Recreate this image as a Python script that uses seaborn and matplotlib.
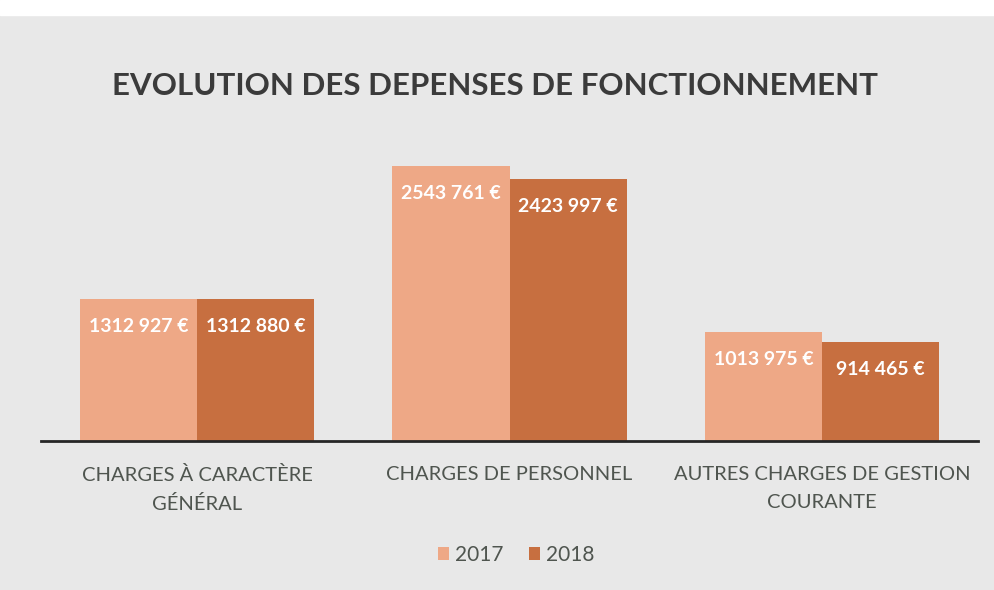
import numpy as np
import matplotlib.pyplot as plt
import matplotlib.patches as mpatches
import pandas as pd
import seaborn as sns

categories = ['CHARGES À CARACTÈRE\nGÉNÉRAL', 'CHARGES DE PERSONNEL',
              'AUTRES CHARGES DE GESTION\nCOURANTE']
years = ['2017', '2018']
values_2017 = [1312927, 2543761, 1013975]
values_2018 = [1312880, 2423997, 914465]

df = pd.DataFrame({
    'categorie': categories * 2,
    'annee': [years[0]] * 3 + [years[1]] * 3,
    'montant': values_2017 + values_2018,
})

sns.set_style('white')
plt.rcParams['font.family'] = ['Lato', 'DejaVu Sans']

fig = plt.figure(figsize=(9.94, 5.90), dpi=100, facecolor='#e8e8e8')
# white strip of the scan at the top
fig.patches.append(mpatches.Rectangle((0, 0.975), 1, 0.025, transform=fig.transFigure,
                                      color='white', zorder=0))
ax = fig.add_axes([0.0412, 0.2525, 0.943, 0.549])
ax.set_facecolor('none')

palette = {'2017': '#eea886', '2018': '#c76f40'}
sns.barplot(data=df, x='categorie', y='montant', hue='annee', palette=palette,
            width=0.75, saturation=1, ax=ax, order=categories, hue_order=years,
            linewidth=0, edgecolor='none')

def fmt(v):
    v = int(round(v))
    if v >= 1000:
        return f"{v // 1000} {v % 1000:03d} €"
    return f"{v} €"

for cont in ax.containers:
    ax.bar_label(cont, labels=[fmt(b.get_height()) for b in cont], label_type='edge',
                 padding=-26, color='white', fontsize=14, fontweight='bold')

ax.set_xlim(-0.5, 2.5)
ax.set_ylim(0, 3000000)
ax.set_yticks([])
ax.set_xlabel('')
ax.set_ylabel('')
for s in ['top', 'right', 'left']:
    ax.spines[s].set_visible(False)
ax.spines['bottom'].set_color('#262626')
ax.spines['bottom'].set_linewidth(2)
ax.tick_params(axis='x', length=0, pad=18, labelsize=14.5, labelcolor='#4f554f')
for t in ax.get_xticklabels():
    t.set_linespacing(1.75)

sns.move_legend(ax, 'center', bbox_to_anchor=(0.507, -0.352), ncol=2, frameon=False,
                title=None, fontsize=15, handlelength=0.55, handleheight=0.55,
                columnspacing=1.2, handletextpad=0.3, labelcolor='#4f554f')

fig.text(0.498, 0.855, 'EVOLUTION DES DEPENSES DE FONCTIONNEMENT', ha='center', va='center',
         fontsize=22.5, fontweight='bold', color='#3b3b3b')

fig.savefig('out.png', dpi=100, facecolor=fig.get_facecolor())
